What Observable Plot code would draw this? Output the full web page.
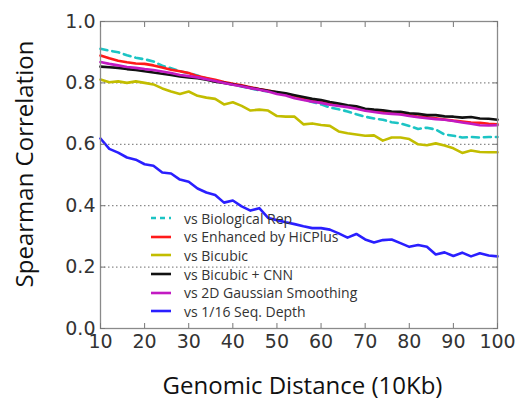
<!DOCTYPE html>
<html>
<head>
<meta charset="utf-8">
<script src="https://cdn.jsdelivr.net/npm/d3@7"></script>
<script src="https://cdn.jsdelivr.net/npm/@observablehq/plot@0.6"></script>
<style>
  body { margin: 0; background: #fff; }
  #wrap { position: relative; width: 523px; height: 406px; }
  #legend { position: absolute; left: 150px; top: 209px; font-family: "Open Sans", sans-serif; font-size: 14px; color: #333; }
  #legend .row { display: flex; align-items: center; height: 18.6px; }
  #legend svg { margin-right: 12px; }
</style>
</head>
<body>
<div id="wrap"><div id="legend"></div></div>
<script>
const distance = d3.range(10, 101, 2);

const seriesNames = [
  "vs Biological Rep",
  "vs Enhanced by HiCPlus",
  "vs Bicubic",
  "vs Bicubic + CNN",
  "vs 2D Gaussian Smoothing",
  "vs 1/16 Seq. Depth"
];
const seriesColors = ["#1cc4c4", "#ff1a1a", "#c2bd00", "#111111", "#c21ac2", "#2a1fff"];

const bioRep = [0.911,0.905,0.900,0.890,0.882,0.877,0.870,0.856,0.848,0.838,0.832,0.824,0.815,0.808,0.800,0.795,0.788,0.782,0.776,0.772,0.768,0.762,0.752,0.746,0.738,0.730,0.720,0.714,0.707,0.698,0.690,0.684,0.680,0.672,0.668,0.660,0.650,0.654,0.648,0.632,0.628,0.622,0.624,0.622,0.624,0.624];
const hicplus = [0.889,0.880,0.872,0.867,0.863,0.862,0.857,0.850,0.843,0.838,0.832,0.822,0.816,0.810,0.803,0.797,0.792,0.786,0.780,0.775,0.769,0.763,0.757,0.751,0.746,0.741,0.734,0.728,0.723,0.718,0.713,0.709,0.706,0.702,0.699,0.695,0.690,0.688,0.685,0.681,0.677,0.674,0.671,0.670,0.667,0.665];
const bicubic = [0.811,0.802,0.805,0.800,0.805,0.800,0.795,0.782,0.772,0.764,0.772,0.758,0.752,0.748,0.730,0.737,0.725,0.710,0.713,0.710,0.692,0.690,0.690,0.665,0.668,0.663,0.660,0.642,0.636,0.632,0.628,0.629,0.612,0.622,0.622,0.617,0.600,0.597,0.603,0.596,0.587,0.572,0.580,0.575,0.574,0.574];
const bicubicCnn = [0.853,0.851,0.849,0.845,0.842,0.838,0.834,0.830,0.826,0.821,0.818,0.815,0.810,0.804,0.800,0.795,0.790,0.784,0.779,0.774,0.770,0.766,0.760,0.754,0.748,0.744,0.738,0.733,0.727,0.724,0.716,0.713,0.711,0.707,0.706,0.701,0.699,0.695,0.695,0.691,0.690,0.687,0.689,0.684,0.683,0.680];
const gaussian = [0.868,0.862,0.857,0.852,0.849,0.845,0.842,0.837,0.832,0.826,0.822,0.818,0.812,0.806,0.800,0.794,0.789,0.783,0.778,0.772,0.764,0.759,0.750,0.744,0.739,0.735,0.729,0.725,0.721,0.716,0.709,0.705,0.701,0.699,0.697,0.692,0.688,0.685,0.682,0.680,0.676,0.671,0.667,0.662,0.661,0.662];
const seqDepth = [0.619,0.585,0.573,0.557,0.550,0.535,0.530,0.508,0.505,0.485,0.478,0.456,0.443,0.435,0.410,0.417,0.398,0.384,0.392,0.360,0.353,0.346,0.340,0.333,0.327,0.327,0.322,0.310,0.296,0.308,0.290,0.280,0.288,0.290,0.278,0.266,0.272,0.266,0.241,0.248,0.236,0.247,0.235,0.245,0.238,0.235];

const xTicks = [10,20,30,40,50,60,70,80,90,100];
const yTicks = [0.0,0.2,0.4,0.6,0.8,1.0];
const yGrid = [0.2,0.4,0.6,0.8];

const allSeries = [bioRep, hicplus, bicubic, bicubicCnn, gaussian, seqDepth];
const rows = allSeries.flatMap((vals, s) => vals.map((v, i) => ({d: distance[i], v, s})));

const W = 523, H = 406, mL = 100, mR = 26, mT = 21, mB = 78;

const lineMarks = allSeries.map((vals, s) =>
  Plot.line(rows.filter(r => r.s === s), {
    x: "d", y: "v", stroke: seriesColors[s], strokeWidth: 2.6,
    strokeDasharray: s === 0 ? "7,5" : null, curve: "linear"
  })
);

const chart = Plot.plot({
  width: W, height: H,
  marginLeft: mL, marginRight: mR, marginTop: mT, marginBottom: mB,
  style: { fontFamily: "DejaVu Sans, sans-serif", background: "#fff", overflow: "visible" },
  x: { domain: [10, 100] },
  y: { domain: [0, 1] },
  marks: [
    Plot.gridY(yGrid, { stroke: "#8a8a8a", strokeOpacity: 1, strokeWidth: 1.3, strokeDasharray: "1.5,2.5" }),
    ...lineMarks,
    Plot.frame({ stroke: "#8a8a8a", strokeWidth: 1.3 }),
    Plot.axisX(xTicks, { anchor: "bottom", tickSize: -5, stroke: "#777", text: null, label: null }),
    Plot.axisX(xTicks, { anchor: "top", tickSize: -5, stroke: "#777", text: null, label: null }),
    Plot.axisY(yTicks, { anchor: "left", tickSize: -5, stroke: "#777", text: null, label: null }),
    Plot.axisY(yTicks, { anchor: "right", tickSize: -5, stroke: "#777", text: null, label: null }),
    Plot.axisX(xTicks, { tickSize: 0, tickPadding: 6, fontSize: 19, fill: "#333", label: null, tickFormat: d => String(d) }),
    Plot.axisY(yTicks, { tickSize: 0, tickPadding: 5, fontSize: 19, fill: "#333", label: null, tickFormat: d => d.toFixed(1) })
  ]
});

const svg = d3.select(chart);
svg.append("text")
  .attr("x", mL + (W - mL - mR) / 2 + 4).attr("y", 394)
  .attr("text-anchor", "middle")
  .attr("font-family", "Open Sans, sans-serif").attr("font-size", 24).attr("fill", "#111")
  .text("Genomic Distance (10Kb)");
svg.append("text")
  .attr("transform", `translate(33, ${164}) rotate(-90)`)
  .attr("text-anchor", "middle")
  .attr("font-family", "Open Sans, sans-serif").attr("font-size", 24).attr("fill", "#111")
  .text("Spearman Correlation");

const wrap = document.getElementById("wrap");
wrap.insertBefore(chart, wrap.firstChild);

const legend = d3.select("#legend");
seriesNames.forEach((name, s) => {
  const row = legend.append("div").attr("class", "row");
  const sw = row.append("svg").attr("width", 22).attr("height", 8);
  sw.append("line").attr("x1", 1).attr("x2", 21).attr("y1", 4).attr("y2", 4)
    .attr("stroke", seriesColors[s]).attr("stroke-width", 2.6)
    .attr("stroke-dasharray", s === 0 ? "5,4" : null);
  row.append("span").text(name);
});
</script>
</body>
</html>
